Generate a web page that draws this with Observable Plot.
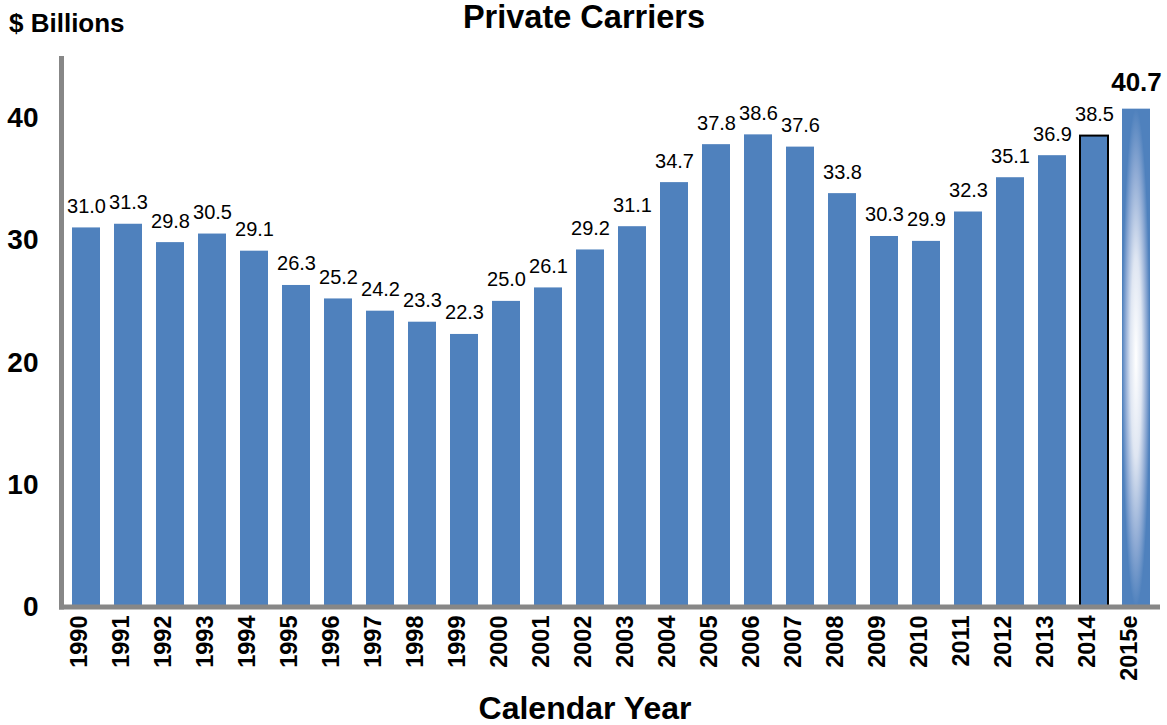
<!DOCTYPE html>
<html>
<head>
<meta charset="utf-8">
<script src="https://cdn.jsdelivr.net/npm/d3@7"></script>
<script src="https://cdn.jsdelivr.net/npm/@observablehq/plot@0.6"></script>
<style>
  html, body { margin: 0; padding: 0; background: #fff; }
  #chart svg { display: block; font-family: "Liberation Sans", Arial, sans-serif; }
</style>
</head>
<body>
<div id="chart"></div>
<script>
const years = ["1990","1991","1992","1993","1994","1995","1996","1997","1998","1999","2000","2001","2002","2003","2004","2005","2006","2007","2008","2009","2010","2011","2012","2013","2014","2015e"];
const values = [31.0,31.3,29.8,30.5,29.1,26.3,25.2,24.2,23.3,22.3,25.0,26.1,29.2,31.1,34.7,37.8,38.6,37.6,33.8,30.3,29.9,32.3,35.1,36.9,38.5,40.7];
const yTicks = [0, 10, 20, 30, 40];
const titleText = "Private Carriers";
const unitText = "$ Billions";
const xTitleText = "Calendar Year";
const outlinedYear = "2014";
const estimateYear = "2015e";

const data = years.map((year, i) => ({year, value: values[i]}));
const regular = data.filter(d => d.year !== outlinedYear && d.year !== estimateYear);
const outlined = data.filter(d => d.year === outlinedYear);
const estimate = data.filter(d => d.year === estimateYear);
const barColor = "#4f81bd";
const font = "'Liberation Sans', Arial, sans-serif";

const W = 1167, H = 725;
const mL = 62, mR = 7, mT = 56, mB = 118;

const chart = Plot.plot({
  width: W,
  height: H,
  marginLeft: mL,
  marginRight: mR,
  marginTop: mT,
  marginBottom: mB,
  style: {fontFamily: font, background: "#fff", color: "#000"},
  x: {domain: years, paddingInner: 0.336, paddingOuter: 0.168, axis: null},
  y: {domain: [0, 45], axis: null},
  marks: [
    Plot.barY(regular, {x: "year", y: "value", fill: barColor}),
    Plot.barY(outlined, {x: "year", y: "value", fill: barColor, stroke: "#000", strokeWidth: 2}),
    Plot.barY(estimate, {x: "year", y: "value", fill: "url(#estGrad)"}),
    Plot.text(data.filter(d => d.year !== estimateYear), {
      x: "year", y: "value", text: d => d.value.toFixed(1),
      lineAnchor: "bottom", dy: -15, fontSize: 20, fill: "#000"
    }),
    Plot.text(estimate, {
      x: "year", y: "value", text: d => d.value.toFixed(1),
      lineAnchor: "bottom", dy: -18, fontSize: 26, fontWeight: "bold", fill: "#000"
    }),
    Plot.text(yTicks, {
      y: d => d, text: d => String(d), frameAnchor: "left", textAnchor: "end",
      dx: -24, fontSize: 28, fontWeight: "bold", fill: "#000"
    }),
    Plot.text(years, {
      x: d => d, text: d => d, frameAnchor: "bottom", rotate: -90, textAnchor: "end",
      dy: 8, fontSize: 23.5, fontWeight: "bold", fill: "#000"
    })
  ]
});

const svg = d3.select(chart);
const defs = svg.insert("defs", ":first-child");
const g = defs.append("radialGradient").attr("id", "estGrad")
  .attr("cx", 0.5).attr("cy", 0.5).attr("r", 0.5);
g.append("stop").attr("offset", "0%").attr("stop-color", "#ffffff");
g.append("stop").attr("offset", "40%").attr("stop-color", "#dfe6f2");
g.append("stop").attr("offset", "75%").attr("stop-color", "#8eaad4");
g.append("stop").attr("offset", "100%").attr("stop-color", barColor);

const yScale = chart.scale("y");
const y0 = yScale.apply(0);
const axisColor = "#878787";
svg.append("line").attr("x1", mL - 0.5).attr("x2", mL - 0.5)
  .attr("y1", mT).attr("y2", y0 + 2.5)
  .attr("stroke", axisColor).attr("stroke-width", 5);
svg.append("line").attr("x1", mL - 3).attr("x2", W - mR)
  .attr("y1", y0).attr("y2", y0)
  .attr("stroke", axisColor).attr("stroke-width", 5);

svg.append("text").attr("x", 584).attr("y", 28).attr("text-anchor", "middle")
  .attr("font-size", 32.5).attr("font-weight", "bold").attr("fill", "#000").text(titleText);
svg.append("text").attr("x", 9).attr("y", 32).attr("text-anchor", "start")
  .attr("font-size", 26).attr("font-weight", "bold").attr("fill", "#000").text(unitText);
svg.append("text").attr("x", 585).attr("y", 719).attr("text-anchor", "middle")
  .attr("font-size", 32).attr("font-weight", "bold").attr("fill", "#000").text(xTitleText);

document.getElementById("chart").appendChild(chart);
</script>
</body>
</html>
